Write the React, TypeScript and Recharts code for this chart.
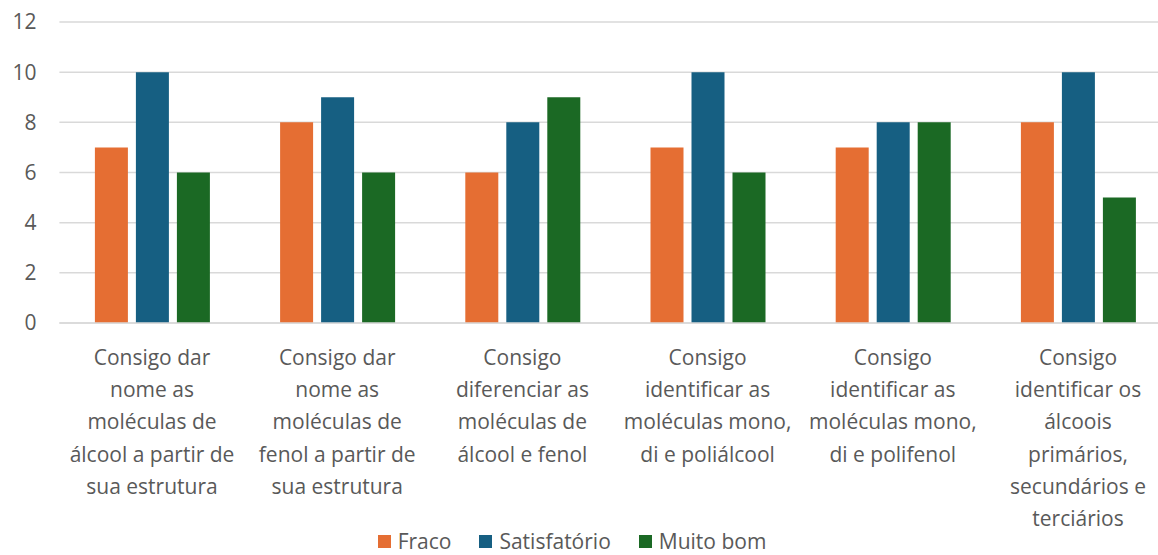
import { BarChart, Bar, XAxis, YAxis, CartesianGrid, Legend } from 'recharts';

const categories = [
  'Consigo dar\nnome as\nmoléculas de\nálcool a partir de\nsua estrutura',
  'Consigo dar\nnome as\nmoléculas de\nfenol a partir de\nsua estrutura',
  'Consigo\ndiferenciar as\nmoléculas de\nálcool e fenol',
  'Consigo\nidentificar as\nmoléculas mono,\ndi e poliálcool',
  'Consigo\nidentificar as\nmoléculas mono,\ndi e polifenol',
  'Consigo\nidentificar os\nálcoois\nprimários,\nsecundários e\nterciários',
];
const fraco = [7, 8, 6, 7, 7, 8];
const satisfatorio = [10, 9, 8, 10, 8, 10];
const muitoBom = [6, 6, 9, 6, 8, 5];
const yTicks = [0, 2, 4, 6, 8, 10, 12];

const series = [
  { key: 'Fraco', color: '#E56E33' },
  { key: 'Satisfatório', color: '#165F82' },
  { key: 'Muito bom', color: '#1B6924' },
];

const data = categories.map((name, i) => ({
  name,
  Fraco: fraco[i],
  'Satisfatório': satisfatorio[i],
  'Muito bom': muitoBom[i],
}));

const FONT = '"Open Sans", sans-serif';
const TEXT = '#595959';
const SIZE = 21;

function CategoryTick({ x, y, payload }: any) {
  const lines = String(payload.value).split('\n');
  return (
    <text x={x} y={y} textAnchor="middle" fill={TEXT} fontSize={SIZE} fontFamily={FONT}>
      {lines.map((l, i) => (
        <tspan key={i} x={x} y={y + 42 + i * 32.2}>
          {l}
        </tspan>
      ))}
    </text>
  );
}

function LegendBox() {
  return (
    <div
      style={{
        display: 'flex',
        justifyContent: 'center',
        alignItems: 'center',
        height: 32,
        gap: 28,
        fontFamily: FONT,
        fontSize: SIZE,
        lineHeight: '24px',
        color: TEXT,
        position: 'relative',
        top: 2,
        marginLeft: -14,
      }}
    >
      {series.map((s) => (
        <div key={s.key} style={{ display: 'flex', alignItems: 'center', gap: 7 }}>
          <span style={{ width: 13, height: 13, background: s.color, display: 'inline-block' }} />
          <span>{s.key}</span>
        </div>
      ))}
    </div>
  );
}

export default function App() {
  return (
    <div style={{ position: 'absolute', left: 0, top: 0, width: 1158, height: 555, overflow: 'hidden', background: '#fff' }}>
      <BarChart
        width={1158}
        height={555}
        data={data}
        margin={{ top: 22, right: -12.6, bottom: 0, left: 0 }}
        barCategoryGap={35.5}
        barGap={8}
      >
        <CartesianGrid vertical={false} stroke="#d9d9d9" strokeWidth={1.5} />
        <XAxis
          dataKey="name"
          interval={0}
          height={200}
          tickLine={false}
          tickSize={0}
          tickMargin={0}
          axisLine={{ stroke: '#d9d9d9', strokeWidth: 1.5 }}
          tick={<CategoryTick />}
        />
        <YAxis
          width={59.4}
          domain={[0, 12]}
          ticks={yTicks}
          axisLine={false}
          tickLine={false}
          tickSize={0}
          tickMargin={23}
          tick={{ fill: TEXT, fontSize: SIZE, fontFamily: FONT }}
        />
        <Legend verticalAlign="bottom" content={<LegendBox />} wrapperStyle={{ left: 0, width: 1158, height: 32 }} />
        {series.map((s) => (
          <Bar key={s.key} dataKey={s.key} fill={s.color} isAnimationActive={false} />
        ))}
      </BarChart>
    </div>
  );
}
